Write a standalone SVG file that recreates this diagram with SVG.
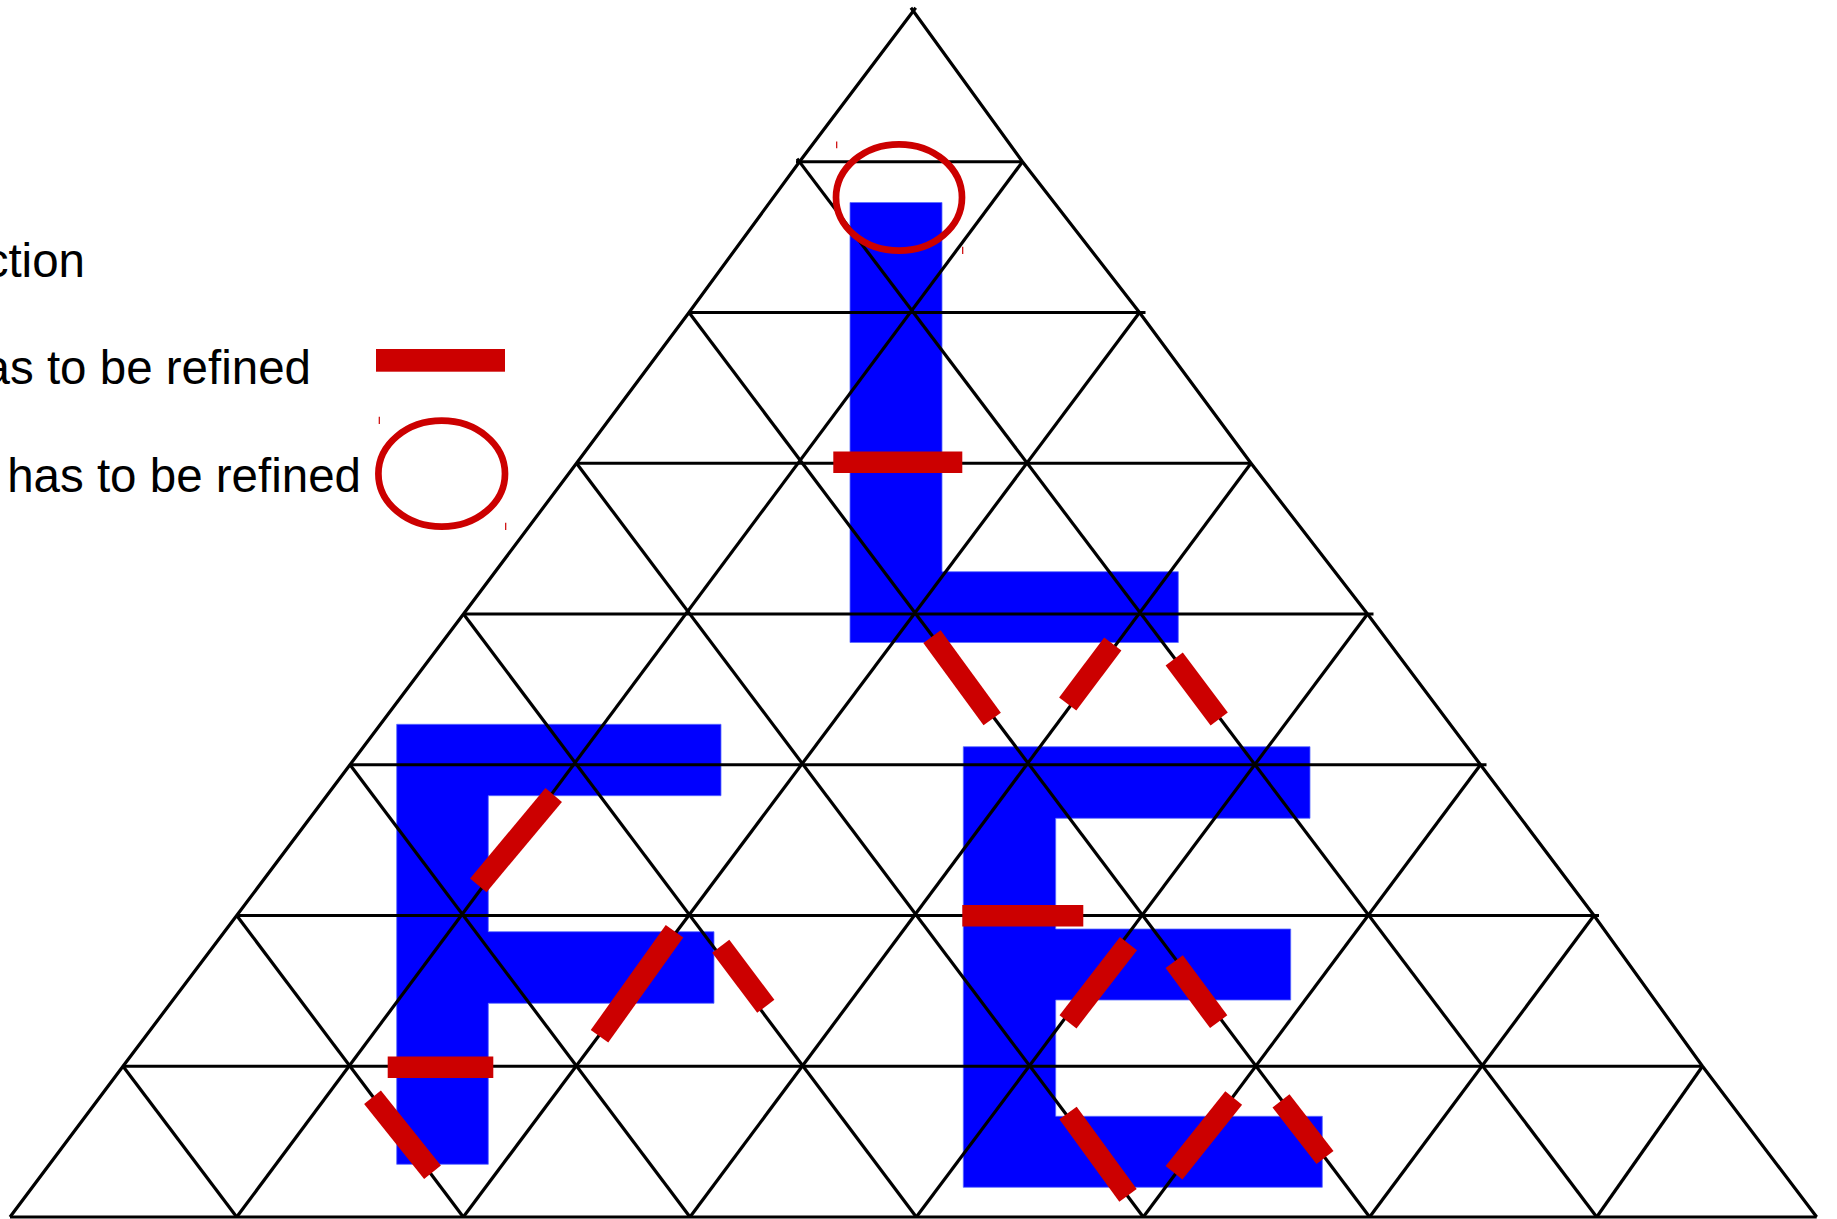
<svg xmlns="http://www.w3.org/2000/svg" width="1837" height="1219" viewBox="0 0 1837 1219">
<style>
.bg{fill:#ffffff}
.letter{fill:#0000ff;stroke:#5a6cff;stroke-width:0.8}
.grid line,.grid polyline{stroke:#000000;stroke-width:3.2;stroke-linecap:butt;fill:none}
.mark{stroke:#cc0000;stroke-width:21.5;stroke-linecap:butt}
.ring{fill:none;stroke:#cc0000;stroke-width:6.7}
.tick{stroke:#cc0000;stroke-width:1.2}
.lbl{font-family:"Liberation Sans",Arial,sans-serif;font-size:47.5px;fill:#000000;text-anchor:end}
</style>
<rect class="bg" x="0" y="0" width="1837" height="1219"/>

<g id="letter-L">
<polygon class="letter" points="850,202.5 942,202.5 942,571.7 1178.3,571.7 1178.3,642.5 850,642.5"/>
</g>
<g id="letter-F">
<polygon class="letter" points="396.7,724.3 721,724.3 721,795.7 488.3,795.7 488.3,931.7 714,931.7 714,1003.3 488.3,1003.3 488.3,1164.3 396.7,1164.3"/>
</g>
<g id="letter-E">
<polygon class="letter" points="963.3,746.7 1310,746.7 1310,818.3 1055.7,818.3 1055.7,929 1290.7,929 1290.7,1000 1055.7,1000 1055.7,1116.3 1322.3,1116.3 1322.3,1187.3 963.3,1187.3"/>
</g>

<g id="connectors" class="grid">
<line x1="796" y1="161.75" x2="1022.5" y2="161.75"/>
<line x1="689" y1="312.5" x2="1145.5" y2="312.5"/>
<line x1="576.5" y1="463.25" x2="1251" y2="463.25"/>
<line x1="463.5" y1="614" x2="1373.5" y2="614"/>
<line x1="350" y1="764.75" x2="1486.5" y2="764.75"/>
<line x1="236.7" y1="915.5" x2="1599" y2="915.5"/>
<line x1="123" y1="1066.25" x2="1702.5" y2="1066.25"/>
<line x1="10" y1="1217" x2="1816.7" y2="1217"/>

<polyline points="10,1217 123,1066.25 236.7,915.5 350,764.75 463.5,614 576.5,463.25 689,312.5 799.5,161.75 913.3,11 915.7,7.8"/>
<polyline points="910.9,7.8 913.3,11 1022.5,161.75 1139.5,312.5 1251,463.25 1367.5,614 1480.5,764.75 1594,915.5 1702.5,1066.25 1816.7,1217"/>

<line x1="236.7" y1="1217" x2="1022.5" y2="161.75"/>
<line x1="463.3" y1="1217" x2="1139.5" y2="312.5"/>
<line x1="690" y1="1217" x2="1251" y2="463.25"/>
<line x1="916.3" y1="1217" x2="1367.5" y2="614"/>
<line x1="1143.3" y1="1217" x2="1480.5" y2="764.75"/>
<line x1="1369.6" y1="1217" x2="1594" y2="915.5"/>
<line x1="1596.7" y1="1217" x2="1702.5" y2="1066.25"/>

<line x1="236.7" y1="1217" x2="123" y2="1066.25"/>
<line x1="463.3" y1="1217" x2="236.7" y2="915.5"/>
<line x1="690" y1="1217" x2="350" y2="764.75"/>
<line x1="916.3" y1="1217" x2="463.5" y2="614"/>
<line x1="1143.3" y1="1217" x2="576.5" y2="463.25"/>
<line x1="1369.6" y1="1217" x2="689" y2="312.5"/>
<line x1="1596.7" y1="1217" x2="797.1" y2="158.6"/>
</g>

<g id="refine-edges">
<line class="mark" x1="833.3" y1="462.2" x2="962.3" y2="462.2"/>
<line class="mark" x1="387.7" y1="1067.2" x2="493.3" y2="1067.2"/>
<line class="mark" x1="962.3" y1="915.7" x2="1083.3" y2="915.7"/>
<line class="mark" x1="932" y1="636.7" x2="992.2" y2="719"/>
<line class="mark" x1="1112.8" y1="644" x2="1067.7" y2="704"/>
<line class="mark" x1="1174.2" y1="659" x2="1219.2" y2="719"/>
<line class="mark" x1="553.7" y1="795" x2="478.3" y2="885.3"/>
<line class="mark" x1="674.5" y1="931.3" x2="599.5" y2="1036.3"/>
<line class="mark" x1="720.7" y1="946.2" x2="765.8" y2="1006.3"/>
<line class="mark" x1="1128.5" y1="943.7" x2="1068" y2="1021.8"/>
<line class="mark" x1="1174.2" y1="961.7" x2="1218.7" y2="1021.7"/>
<line class="mark" x1="1068" y1="1113" x2="1128" y2="1195.3"/>
<line class="mark" x1="1233.7" y1="1098" x2="1174" y2="1172.7"/>
<line class="mark" x1="1281" y1="1100.8" x2="1325" y2="1157.5"/>
<line class="mark" x1="372.5" y1="1097.3" x2="432.5" y2="1172.2"/>
</g>

<g id="refine-vertex">
<ellipse class="ring" cx="899" cy="197.5" rx="63" ry="53.2"/>
<line class="tick" x1="836.7" y1="141.5" x2="836.7" y2="148.3"/>
<line class="tick" x1="962.7" y1="246.7" x2="962.7" y2="254"/>
</g>

<g id="legend">
<text class="lbl" x="85" y="277.3">ction</text>
<text class="lbl" x="311" y="384.3">as to be refined</text>
<rect x="376" y="349" width="129" height="22.7" fill="#cc0000"/>
<text class="lbl" x="361" y="492.3">has to be refined</text>
<ellipse class="ring" cx="441.7" cy="473.7" rx="63.3" ry="53"/>
<line class="tick" x1="379.3" y1="416.7" x2="379.3" y2="424"/>
<line class="tick" x1="505.7" y1="522.7" x2="505.7" y2="530"/>
</g>
</svg>
